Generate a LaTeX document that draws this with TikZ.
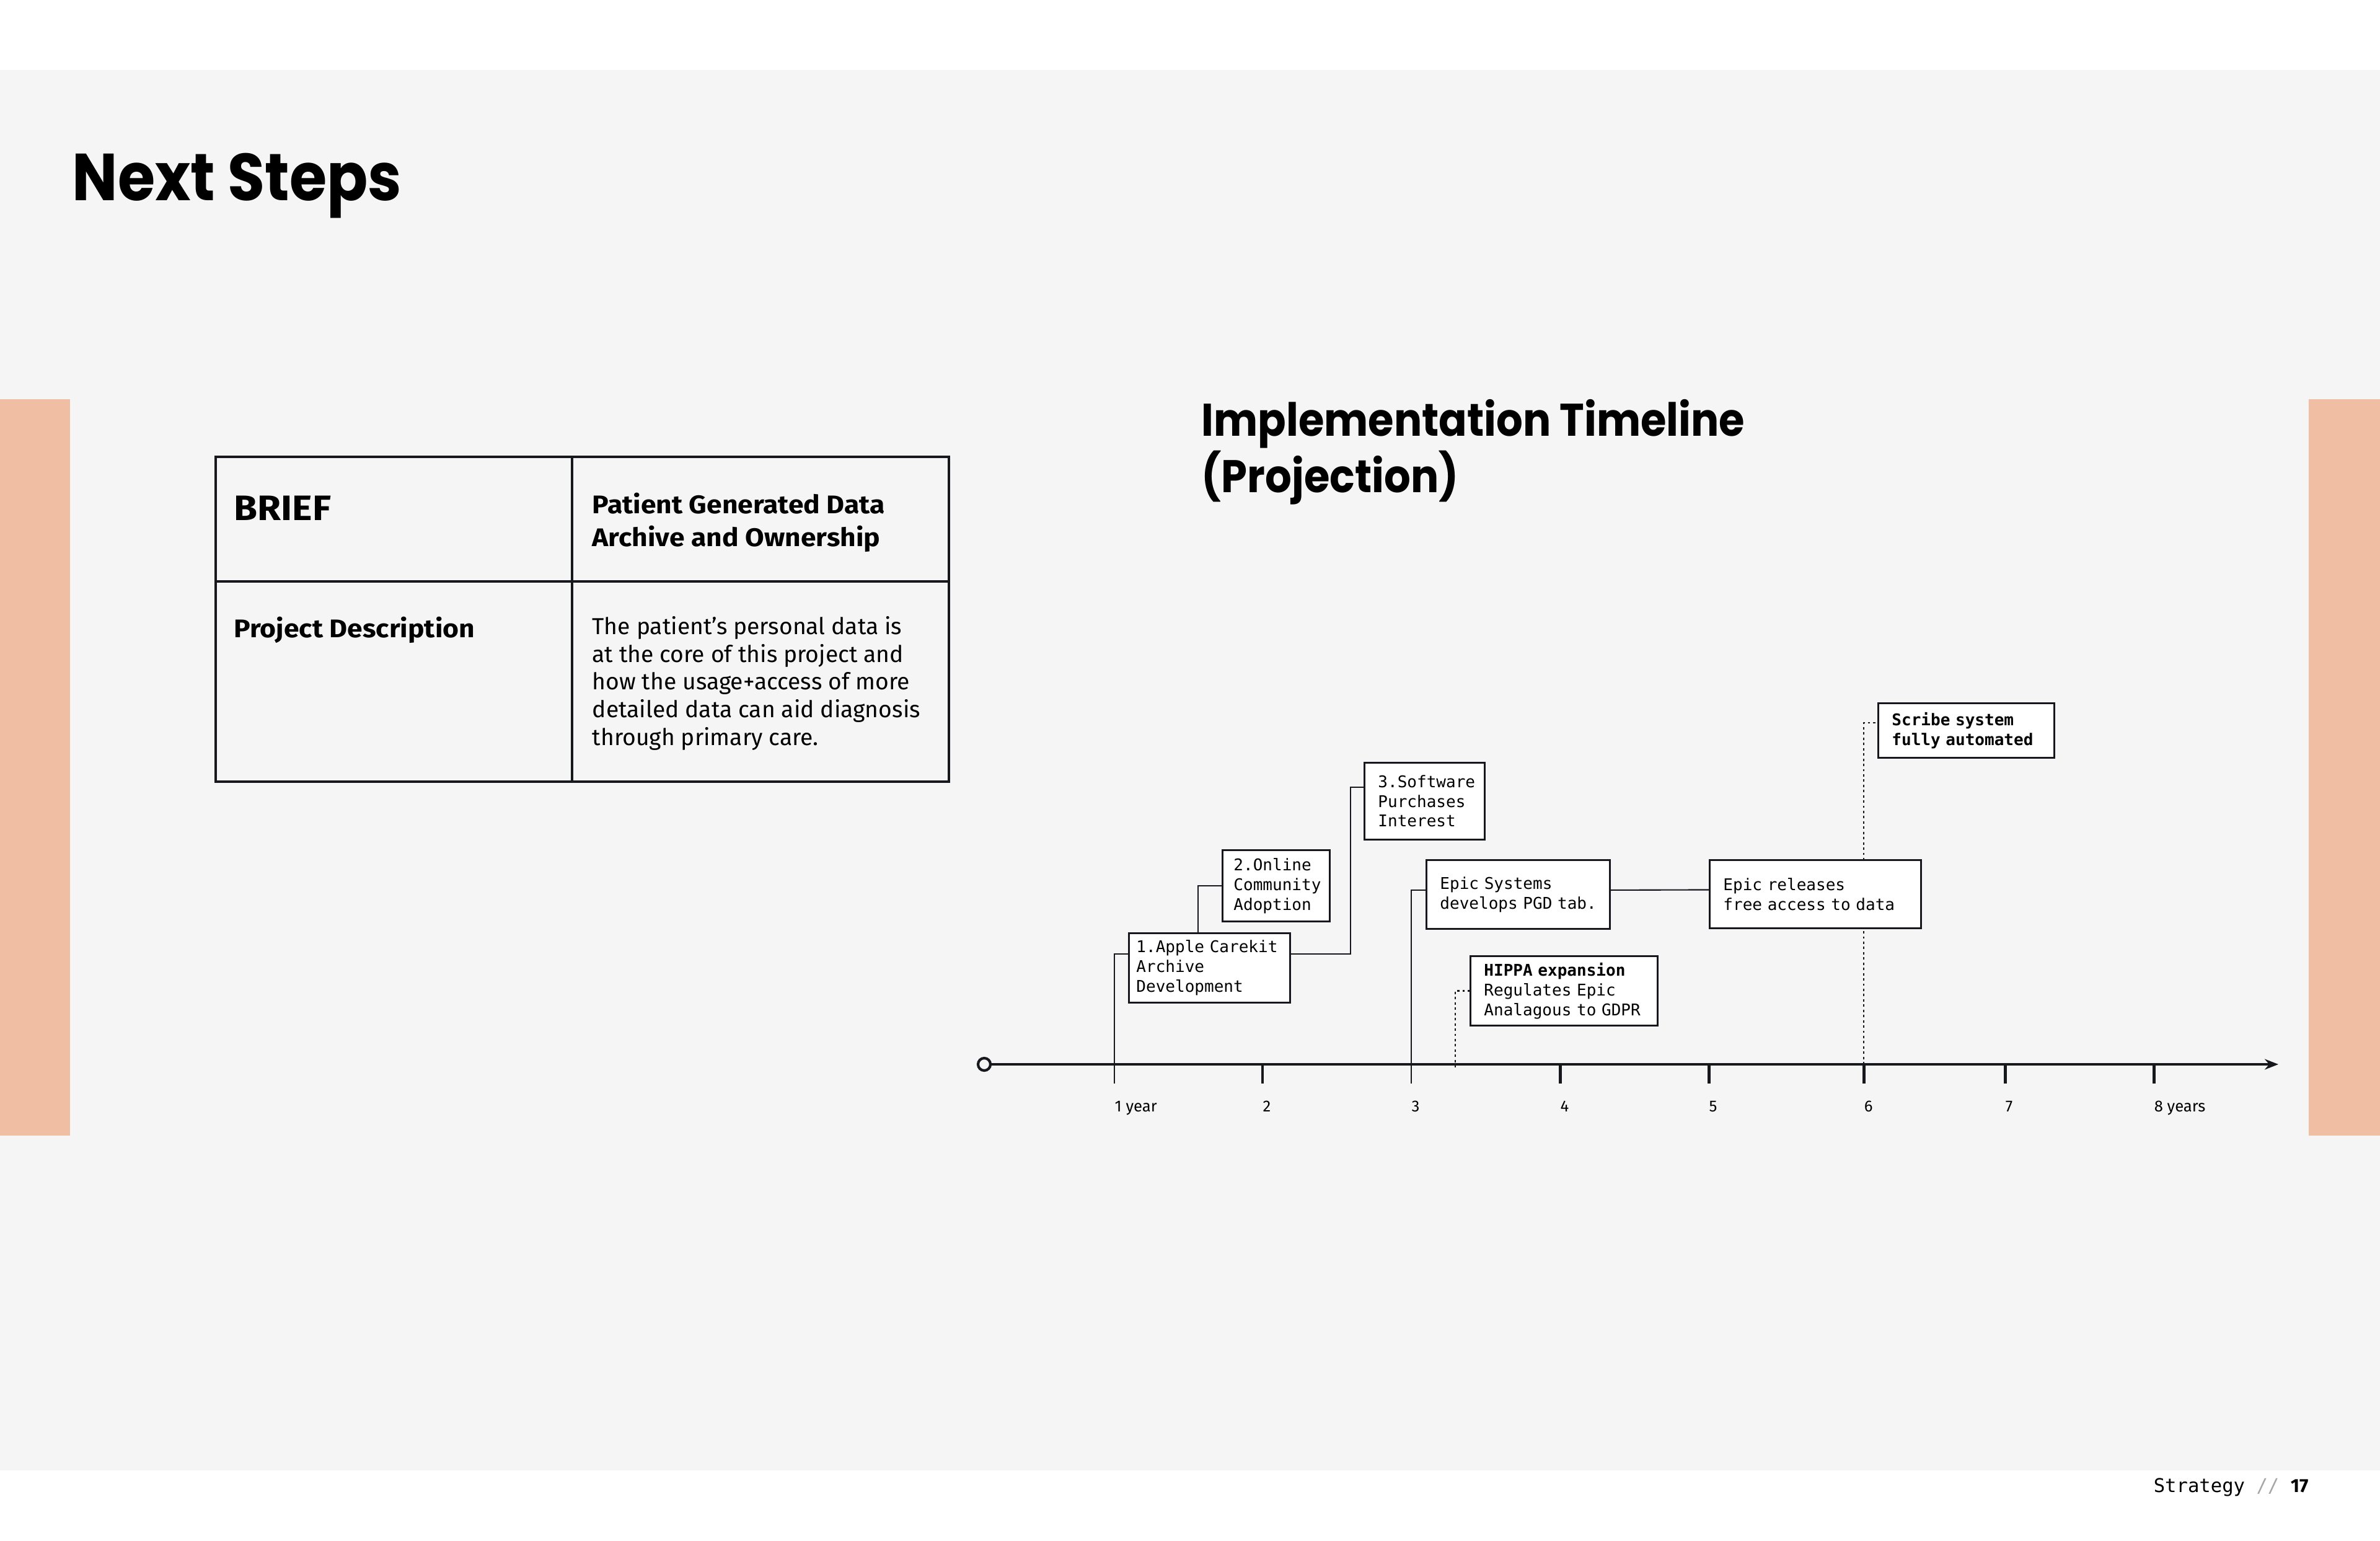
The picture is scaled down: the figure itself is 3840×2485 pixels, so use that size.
\documentclass[tikz,border=0pt]{standalone}
\usepackage{xcolor}
\usepackage{fontspec}
\setmainfont{Fira Sans}
\newfontfamily\monofont{DejaVu Sans Mono}
\newfontfamily\headfont{Poppins}[FakeStretch=0.91]
\newfontfamily\cellfont{Fira Sans}[FakeStretch=1.08]
\usetikzlibrary{arrows.meta,backgrounds}
\definecolor{paper}{HTML}{F4F5F4}
\definecolor{peach}{HTML}{F0BEA2}
\definecolor{ink}{HTML}{16181D}
\hyphenpenalty=10000

\begin{document}
\begin{tikzpicture}[x=0.01cm, y=-0.01cm,
      tl box/.style={draw=ink, line width=0.8pt, fill=white, anchor=north west,
        align=left, inner ysep=0pt, font=\monofont\fontsize{7.4}{9.05}\selectfont},
      link/.style={ink, line width=0.6pt},
      dotlink/.style={ink, line width=0.6pt, dash pattern=on 1.1pt off 1.3pt},
      tickmark/.style={ink, line width=1.4pt},
      ticklabel/.style={anchor=base west, inner sep=0pt, font=\fontsize{7.3}{9}\selectfont}]
      \useasboundingbox (0,0) rectangle (3840,2485);
      \begin{scope}[on background layer]
        \fill[white] (0,0) rectangle (3840,2485);
        \fill[paper] (0,113) rectangle (3840,2372);
        \fill[peach] (0,644) rectangle (113,1832);
        \fill[peach] (3725,644) rectangle (3840,1832);
      \end{scope}
      \node[anchor=base west, inner sep=0pt, font=\headfont\bfseries\fontsize{30.5}{36}\selectfont] (title) at (116,324) {Next Steps};
      % brief table
      \draw[ink, line width=1pt] (348,737) rectangle (1531,1261) (923,737) -- (923,1261) (348,938) -- (1531,938);
      \node[anchor=base west, inner sep=0pt, font=\cellfont\bfseries\fontsize{16.2}{18}\selectfont] (brief) at (377,839) {BRIEF};
      \node[anchor=base west, inner sep=0pt, align=left, font=\cellfont\bfseries\fontsize{11.7}{14.8}\selectfont] (subject) at (955,881) {Patient Generated Data\\Archive and Ownership};
      \node[anchor=base west, inner sep=0pt, font=\cellfont\bfseries\fontsize{11.7}{14.8}\selectfont] (project) at (377,1028) {Project Description};
      \node[anchor=base west, inner sep=0pt, align=left, font=\fontsize{10.6}{12.7}\selectfont] (desc) at (955,1202) {The patient’s personal data is\\at the core of this project and\\how the usage+access of more\\detailed data can aid diagnosis\\through primary care.};
      % timeline
      \node[anchor=base west, inner sep=0pt, align=left, font=\headfont\bfseries\fontsize{21}{25.6}\selectfont] (tltitle) at (1938,794) {Implementation Timeline\\(Projection)};
      \node[circle, draw=ink, line width=1.2pt, fill=paper, inner sep=0pt, minimum size=0.2cm] (origin) at (1588,1717) {};
      \coordinate (axisend) at (3676,1717);
      \draw[ink, line width=1.4pt, -{Stealth[length=0.22cm, width=0.17cm]}] (origin) -- (axisend);
      \foreach \x/\lab [count=\i] in {1798/1 year, 2037/2, 2277/3, 2517/4, 2757/5, 3007/6, 3235/7, 3475/8 years} {
        \coordinate (t\i) at (\x,1717);
        \coordinate (tb\i) at (\x,1748);
        \node[ticklabel] (y\i) at (\x,1793) {\lab};
      }
      \foreach \i in {2,4,5,6,7,8}
        \draw[tickmark] (t\i) -- (tb\i);
      \node[tl box, inner xsep=0.12cm, text width=2.36cm, minimum height=1.12cm] (apple) at (1820,1504) {1.Apple~Carekit\\Archive\\Development};
      \node[tl box, inner xsep=0.18cm, text width=1.37cm, minimum height=1.15cm] (online) at (1971,1370) {2.Online\\Community\\Adoption};
      \node[tl box, inner xsep=0.22cm, text width=1.50cm, minimum height=1.24cm] (software) at (2200,1229) {3.Software\\Purchases\\Interest};
      \node[tl box, inner xsep=0.22cm, text width=2.52cm, minimum height=1.11cm] (epic) at (2300,1386) {Epic~Systems\\develops~PGD~tab.};
      \node[tl box, inner xsep=0.22cm, text width=2.58cm, minimum height=1.12cm] (hippa) at (2371,1541) {{\bfseries HIPPA~expansion}\\Regulates~Epic\\Analagous~to~GDPR};
      \node[tl box, inner xsep=0.22cm, text width=2.97cm, minimum height=1.10cm] (release) at (2757,1386) {Epic~releases\\free~access~to~data};
      \node[tl box, inner xsep=0.22cm, text width=2.40cm, minimum height=0.88cm] (scribe) at (3029,1133) {{\bfseries Scribe~system}\\{\bfseries fully~automated}};
      \coordinate (ojoin) at ([xshift=-0.38cm]online.west);
      \coordinate (hipfoot) at (2348,1722);
      \begin{scope}[on background layer]
        \draw[link] (tb1) |- ([yshift=0.22cm]apple.west);
        \draw[link] (ojoin |- apple.north) |- (online.west);
        \draw[link] ([yshift=0.22cm]apple.east) -| ([xshift=-0.21cm,yshift=0.22cm]software.west) -- ([yshift=0.22cm]software.west);
        \draw[link] (tb3) |- ([yshift=0.07cm]epic.west);
        \draw[link] ([yshift=0.07cm]epic.east) -- ([yshift=0.07cm]release.west);
        \draw[dotlink] (hipfoot) |- (hippa.west);
        \draw[dotlink] (t6) |- ([yshift=0.12cm]scribe.west);
      \end{scope}
      \node[anchor=base east, inner sep=0pt, font=\monofont\fontsize{8.7}{10}\selectfont] (pageno) at (3725,2407) {Strategy {\color{gray!70}//}\ {\normalfont\bfseries 17}};
\end{tikzpicture}
\end{document}
